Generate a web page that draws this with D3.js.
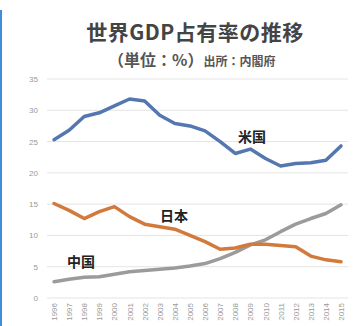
<!DOCTYPE html>
<html>
<head>
<meta charset="utf-8">
<script src="https://cdn.jsdelivr.net/npm/d3@7"></script>
<style>
  body { margin: 0; background: #fff; }
  svg { display: block; font-family: "Noto Sans CJK JP", "Noto Sans", sans-serif; }
</style>
</head>
<body>
<div id="chart-area"></div>
<script>
const years = d3.range(1996, 2016)
const usShare = [25.3, 26.8, 29.0, 29.6, 30.7, 31.8, 31.5, 29.2, 27.9, 27.5, 26.7, 25.0, 23.1, 23.8, 22.3, 21.1, 21.5, 21.6, 22.0, 24.3]
const japanShare = [15.1, 14.0, 12.7, 13.8, 14.6, 13.0, 11.8, 11.4, 11.0, 10.0, 9.0, 7.8, 8.0, 8.6, 8.6, 8.4, 8.2, 6.7, 6.1, 5.8]
const chinaShare = [2.6, 3.0, 3.3, 3.4, 3.8, 4.2, 4.4, 4.6, 4.8, 5.1, 5.5, 6.3, 7.3, 8.5, 9.3, 10.6, 11.8, 12.7, 13.5, 14.9]
const yTicks = [0, 5, 10, 15, 20, 25, 30, 35]
const seriesNames = ["米国", "日本", "中国"]

const W = 360, H = 326

const svg = d3.select("#chart-area").append("svg")
  .attr("width", W)
  .attr("height", H)

// left blue edge
svg.append("rect")
  .attr("x", 0).attr("y", 10)
  .attr("width", 2).attr("height", H - 10)
  .attr("fill", "#3f8fd8")

// Title
svg.append("text")
  .attr("x", 195).attr("y", 40)
  .attr("text-anchor", "middle")
  .attr("font-size", "21px")
  .attr("font-weight", "bold")
  .attr("letter-spacing", "0.5px")
  .attr("fill", "#444")
  .text("世界GDP占有率の推移")

const sub = svg.append("text")
  .attr("x", 108).attr("y", 66)
  .attr("fill", "#555")
  .attr("font-weight", "bold")
sub.append("tspan").attr("font-size", "16px").text("（単位：%）")
sub.append("tspan").attr("font-size", "12px").text("出所：内閣府")

const x = d3.scalePoint()
  .domain(years)
  .range([54, 341])

const y = d3.scaleLinear()
  .domain([0, 35])
  .range([298, 79])

// grid
svg.append("g")
  .selectAll("line")
  .data(yTicks)
  .enter().append("line")
    .attr("x1", 47).attr("x2", 348)
    .attr("y1", d => y(d)).attr("y2", d => y(d))
    .attr("stroke", "#e4e4e4")
    .attr("stroke-width", 1)

// y axis labels
const yAxis = d3.axisLeft(y).tickValues(yTicks).tickSize(0).tickPadding(0)
svg.append("g")
  .attr("transform", "translate(38, 0)")
  .call(yAxis)
  .call(g => g.select(".domain").remove())
  .selectAll("text")
    .attr("font-size", "8px")
    .attr("fill", "#999")
    .attr("font-family", "Liberation Sans, sans-serif")

// x axis labels
const xAxis = d3.axisBottom(x).tickSize(0).tickPadding(0)
svg.append("g")
  .attr("transform", "translate(0, 303)")
  .call(xAxis)
  .call(g => g.select(".domain").remove())
  .selectAll("text")
    .attr("font-size", "8px")
    .attr("fill", "#999")
    .attr("font-family", "Liberation Sans, sans-serif")
    .attr("text-anchor", "end")
    .attr("dy", "0.32em")
    .attr("y", 0)
    .attr("transform", "rotate(-90)")

const line = d3.line()
  .x((d, i) => x(years[i]))
  .y(d => y(d))

const series = [
  { name: seriesNames[0], values: usShare, color: "#5577b0", lx: 238, ly: 142 },
  { name: seriesNames[1], values: japanShare, color: "#d27a3c", lx: 160, ly: 221 },
  { name: seriesNames[2], values: chinaShare, color: "#9b9b9b", lx: 67, ly: 267 }
]

series.slice().reverse().forEach(s => {
  svg.append("path")
    .attr("d", line(s.values))
    .attr("fill", "none")
    .attr("stroke", s.color)
    .attr("stroke-width", 3.5)
    .attr("stroke-linejoin", "round")
    .attr("stroke-linecap", "round")
})

series.forEach(s => {
  svg.append("text")
    .attr("x", s.lx).attr("y", s.ly)
    .attr("font-size", "14px")
    .attr("font-weight", "bold")
    .attr("fill", "#222")
    .text(s.name)
})
</script>
</body>
</html>
